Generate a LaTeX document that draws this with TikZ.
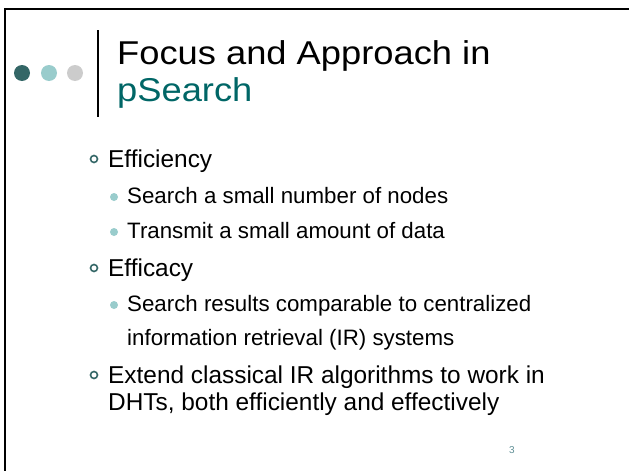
\documentclass[tikz,border=0pt]{standalone}
\usepackage{fontspec}
\setmainfont{Liberation Sans}
\definecolor{dteal}{HTML}{336666}
\definecolor{lteal}{HTML}{99CCCC}
\definecolor{lgray}{HTML}{CCCCCC}
\definecolor{ttl}{HTML}{006666}
\definecolor{pnum}{HTML}{5F8F95}
\tikzset{
  lvone/.style={anchor=base west, inner sep=0pt, font=\fontsize{24.4}{28}\selectfont},
  lvtwo/.style={anchor=base west, inner sep=0pt, font=\fontsize{22.3}{25}\selectfont},
  ttlstyle/.style={anchor=base west, inner sep=0pt, font=\fontsize{33}{38}\selectfont},
  ringb/.style={circle, draw=dteal, line width=1.6pt, minimum size=7pt, inner sep=0pt},
  dotb/.style={circle, fill=lteal, minimum size=8pt, inner sep=0pt},
}
\begin{document}
\begin{tikzpicture}[x=1pt,y=-1pt]
\useasboundingbox (0,0) rectangle (629,471);
% frame
\draw[line width=2.2pt] (5,471) -- (5,9) -- (629,9);
% header dots
\fill[dteal] (22,73) circle (8);
\fill[lteal] (49,73) circle (8);
\fill[lgray] (75,73) circle (8);
\draw[line width=2pt] (98,30) -- (98,117);
% title
\node[ttlstyle] (t1) at (117,64) {\scalebox{1.1}[1]{Focus and Approach in}};
\node[ttlstyle, text=ttl] (t2) at (117,101) {\scalebox{1.1}[1]{pSearch}};
% level 1
\node[ringb] (b1) at (94,159) {};
\node[lvone] (e1) at (108,167) {Efficiency};
\node[dotb] (b2) at (114,197) {};
\node[lvtwo] (s1) at (127,203) {Search a small number of nodes};
\node[dotb] (b3) at (114,232) {};
\node[lvtwo] (s2) at (127,238) {Transmit a small amount of data};
\node[ringb] (b4) at (94,268) {};
\node[lvone] (e2) at (108,276) {Efficacy};
\node[dotb] (b5) at (114,305) {};
\node[lvtwo] (s3) at (127,311) {Search results comparable to centralized};
\node[lvtwo] (s4) at (127,345) {information retrieval (IR) systems};
\node[ringb] (b6) at (94,375) {};
\node[lvone] (e3) at (108,383) {Extend classical IR algorithms to work in};
\node[lvone] (e4) at (108,410) {DHTs, both efficiently and effectively};
\node[anchor=base, inner sep=0pt, text=pnum, font=\fontsize{10}{12}\selectfont] (pn) at (512,453) {3};
\end{tikzpicture}
\end{document}
